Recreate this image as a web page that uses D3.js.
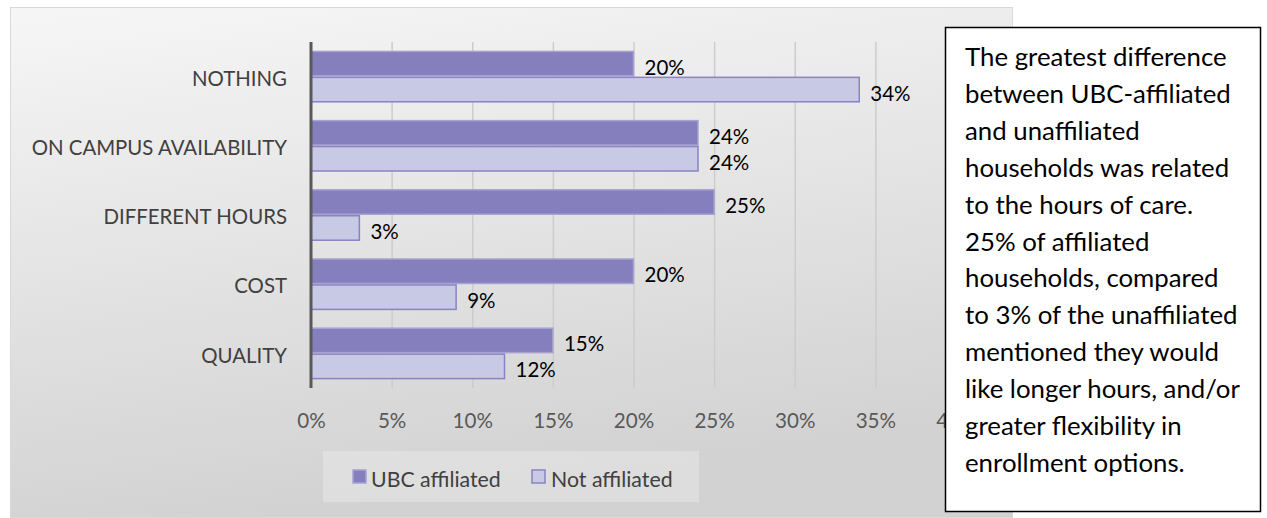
<!DOCTYPE html>
<html>
<head>
<meta charset="utf-8">
<script src="https://cdn.jsdelivr.net/npm/d3@7"></script>
<style>
  html, body { margin: 0; padding: 0; background: #ffffff; }
  svg { display: block; }
</style>
</head>
<body>
<svg id="chart" width="1267" height="518"></svg>
<script>
// Categories, top to bottom
const categories = ["NOTHING", "ON CAMPUS AVAILABILITY", "DIFFERENT HOURS", "COST", "QUALITY"];
// Share of households (%) per category
const ubcAffiliated = [20, 24, 25, 20, 15];
const notAffiliated = [34, 24, 3, 9, 12];
const seriesNames = ["UBC affiliated", "Not affiliated"];
const xTicks = [0, 5, 10, 15, 20, 25, 30, 35, 40];
const noteLines = [
  "The greatest difference",
  "between UBC-affiliated",
  "and unaffiliated",
  "households was related",
  "to the hours of care.",
  "25% of affiliated",
  "households, compared",
  "to 3% of the unaffiliated",
  "mentioned they would",
  "like longer hours, and/or",
  "greater flexibility in",
  "enrollment options."
];

const FONT = "Lato, 'Open Sans', sans-serif";
const svg = d3.select("#chart");

// Chart frame with soft gray gradient
const defs = svg.append("defs");
const grad = defs.append("linearGradient")
  .attr("id", "bg").attr("x1", "0").attr("y1", "0").attr("x2", "0.25").attr("y2", "1");
grad.append("stop").attr("offset", "0").attr("stop-color", "#f6f6f6");
grad.append("stop").attr("offset", "1").attr("stop-color", "#d2d2d2");

// The note box sits on top of the chart's right edge; axis labels stop at its border
defs.append("clipPath").attr("id", "chartClip")
  .append("rect").attr("x", 0).attr("y", 0).attr("width", 945).attr("height", 518);

svg.append("rect")
  .attr("x", 10.5).attr("y", 7.5).attr("width", 1002).attr("height", 510)
  .attr("fill", "url(#bg)").attr("stroke", "#d9d9d9").attr("stroke-width", 1);

// Plot area
const plot = { left: 311, right: 956, top: 42, bottom: 388 };

const x = d3.scaleLinear().domain([0, 40]).range([plot.left, plot.right]);
const y = d3.scaleBand().domain(categories).range([plot.top, plot.bottom]).paddingInner(0.25).paddingOuter(0.125);
const sub = d3.scaleBand().domain(seriesNames).range([0, y.bandwidth()]);

// Vertical gridlines
svg.append("g").selectAll("line")
  .data(xTicks.slice(1))
  .join("line")
  .attr("x1", d => x(d) + 0.5).attr("x2", d => x(d) + 0.5)
  .attr("y1", plot.top).attr("y2", plot.bottom)
  .attr("stroke", "#cccccc").attr("stroke-width", 1.5);

// Bars
const series = [
  { name: seriesNames[0], values: ubcAffiliated, fill: "#857fbd", stroke: "#a7a2d2" },
  { name: seriesNames[1], values: notAffiliated, fill: "#c8c9e5", stroke: "#8a82c2" }
];

series.forEach(s => {
  const g = svg.append("g");
  g.selectAll("rect")
    .data(categories.map((c, i) => ({ c, v: s.values[i] })))
    .join("rect")
    .attr("x", x(0))
    .attr("y", d => y(d.c) + sub(s.name) + 0.75)
    .attr("width", d => x(d.v) - x(0))
    .attr("height", sub.bandwidth() - 1.5)
    .attr("fill", s.fill)
    .attr("stroke", s.stroke)
    .attr("stroke-width", 1.5);
  g.selectAll("text")
    .data(categories.map((c, i) => ({ c, v: s.values[i] })))
    .join("text")
    .attr("x", d => x(d.v) + 11)
    .attr("y", d => y(d.c) + sub(s.name) + sub.bandwidth() / 2 + 3)
    .attr("dominant-baseline", "central")
    .attr("font-family", FONT).attr("font-size", 20.5).attr("fill", "#000")
    .text(d => d.v + "%");
});

// Category axis
const yAxis = svg.append("g").attr("transform", `translate(${plot.left},0)`)
  .call(d3.axisLeft(y).tickSize(0).tickPadding(24));
yAxis.select(".domain").remove();
yAxis.selectAll("text")
  .attr("font-family", FONT).attr("font-size", 20.4).attr("fill", "#404040")
  .attr("dy", "0.45em");
svg.append("line")
  .attr("x1", plot.left).attr("x2", plot.left)
  .attr("y1", plot.top).attr("y2", plot.bottom)
  .attr("stroke", "#595959").attr("stroke-width", 3);

// Value axis labels
const xAxis = svg.append("g").attr("transform", `translate(0,${plot.bottom})`)
  .attr("clip-path", "url(#chartClip)")
  .call(d3.axisBottom(x).tickValues(xTicks).tickSize(0).tickPadding(25).tickFormat(d => d + "%"));
xAxis.select(".domain").remove();
xAxis.selectAll("text")
  .attr("font-family", FONT).attr("font-size", 20.6).attr("fill", "#595959");

// Legend
const legend = svg.append("g");
legend.append("rect")
  .attr("x", 323).attr("y", 451).attr("width", 376).attr("height", 51)
  .attr("fill", "#ffffff").attr("fill-opacity", 0.25);
const legendItems = [
  { x: 353, tx: 371, s: series[0] },
  { x: 532, tx: 551, s: series[1] }
];
legendItems.forEach(it => {
  legend.append("rect")
    .attr("x", it.x).attr("y", 470).attr("width", 13).attr("height", 13)
    .attr("fill", it.s.fill).attr("stroke", it.s.stroke).attr("stroke-width", 1.5);
  legend.append("text")
    .attr("x", it.tx).attr("y", 479).attr("dominant-baseline", "central")
    .attr("font-family", FONT).attr("font-size", 21.3).attr("fill", "#404040")
    .text(it.s.name);
});

// Note box
const note = svg.append("g");
note.append("rect")
  .attr("x", 945.5).attr("y", 27.5).attr("width", 315).attr("height", 484)
  .attr("fill", "#ffffff").attr("stroke", "#000000").attr("stroke-width", 1.5);
note.selectAll("text")
  .data(noteLines)
  .join("text")
  .attr("x", 965)
  .attr("y", (d, i) => 56 + i * 36.9)
  .attr("dominant-baseline", "central")
  .attr("font-family", FONT).attr("font-size", 25.8).attr("fill", "#000")
  .text(d => d);
</script>
</body>
</html>
